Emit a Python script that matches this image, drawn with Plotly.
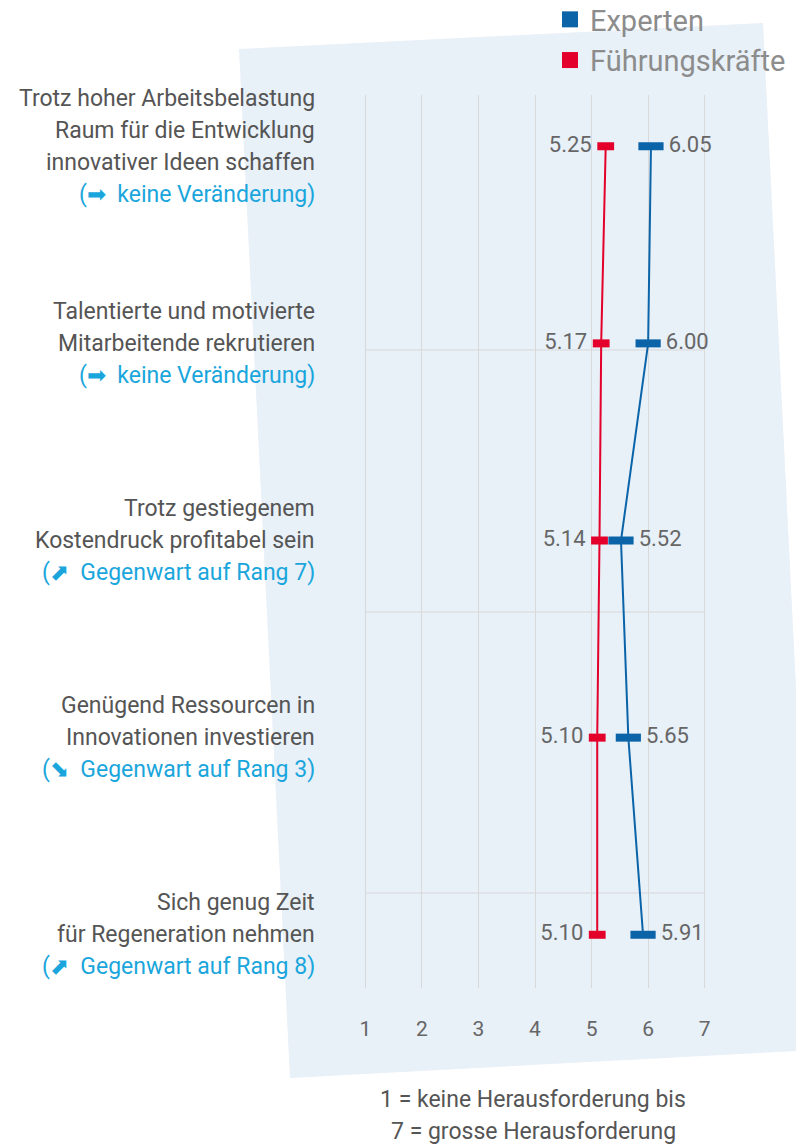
import plotly.graph_objects as go

# ---------------- data ----------------
categories = [
    "Trotz hoher Arbeitsbelastung<br>Raum für die Entwicklung<br>innovativer Ideen schaffen",
    "Talentierte und motivierte<br>Mitarbeitende rekrutieren",
    "Trotz gestiegenem<br>Kostendruck profitabel sein",
    "Genügend Ressourcen in<br>Innovationen investieren",
    "Sich genug Zeit<br>für Regeneration nehmen",
]
trend_arrows = ["➡", "➡", "⬈", "⬊", "⬈"]
trend_texts = [
    "keine Veränderung",
    "keine Veränderung",
    "Gegenwart auf Rang 7",
    "Gegenwart auf Rang 3",
    "Gegenwart auf Rang 8",
]
experten = [6.05, 6.00, 5.52, 5.65, 5.91]
fuehrung = [5.25, 5.17, 5.14, 5.10, 5.10]
x_ticks = [1, 2, 3, 4, 5, 6, 7]
scale_note = ["1 = keine Herausforderung bis", "7 = grosse Herausforderung"]

# ---------------- style ----------------
W, H = 796, 1144
ML, MR, MT, MB = 337, 63, 95, 156
PW, PH = W - ML - MR, H - MT - MB
BLUE = "#0b64a8"
RED = "#e3002a"
CYAN = "#1aa6dc"
DARK = "#555555"
GREY = "#666666"
FONT = "Roboto, 'Open Sans', sans-serif"
NB = "\u00a0"


def px_x(px):
    return (px - ML) / PW


def px_y(py):
    return (H - MB - py) / PH


keys = list(range(len(categories)))

fig = go.Figure()

fig.add_trace(go.Scatter(
    x=experten, y=keys, mode="lines+markers+text",
    line=dict(color=BLUE, width=2),
    marker=dict(symbol="line-ew", size=18, line=dict(color=BLUE, width=8)),
    texttemplate=NB + "%{x:.2f}", textposition="middle right",
    textfont=dict(family=FONT, size=22, color=GREY),
    showlegend=False, cliponaxis=False, hoverinfo="skip",
))
fig.add_trace(go.Scatter(
    x=fuehrung, y=keys, mode="lines+markers+text",
    line=dict(color=RED, width=2),
    marker=dict(symbol="line-ew", size=12, line=dict(color=RED, width=8)),
    texttemplate="%{x:.2f}" + NB, textposition="middle left",
    textfont=dict(family=FONT, size=22, color=GREY),
    showlegend=False, cliponaxis=False, hoverinfo="skip",
))
# legend entries
fig.add_trace(go.Scatter(x=[None], y=[None], mode="markers", name="Experten",
                         marker=dict(symbol="square", size=18, color=BLUE)))
fig.add_trace(go.Scatter(x=[None], y=[None], mode="markers", name="Führungskräfte",
                         marker=dict(symbol="square", size=18, color=RED)))

# background tilted panel
poly = [(239, 49), (763, 23), (814, 1050), (290, 1078)]
path = "M " + " L ".join(f"{px_x(a):.4f},{px_y(b):.4f}" for a, b in poly) + " Z"
shapes = [dict(type="path", path=path, xref="paper", yref="paper",
               fillcolor="#e8f0f8", line=dict(width=0), layer="below")]
# horizontal separators
for py in (350, 612, 893):
    shapes.append(dict(type="line", xref="x", yref="paper", x0=1, x1=7,
                       y0=px_y(py), y1=px_y(py),
                       line=dict(color="#d8d8d8", width=1), layer="below"))

annotations = []
LINE = 32
for i, cat in enumerate(categories):
    sub = "(" + trend_arrows[i] + NB + NB + trend_texts[i] + ")"
    lines = cat.split("<br>") + [sub]
    n = len(lines)
    for k, txt in enumerate(lines):
        annotations.append(dict(
            x=px_x(317), xref="paper", y=i, yref="y", xanchor="right", yanchor="middle",
            text=txt, showarrow=False,
            yshift=((n - 1) / 2 - k) * LINE,
            font=dict(family=FONT, size=23, color=CYAN if k == n - 1 else DARK),
        ))
for k, txt in enumerate(scale_note):
    annotations.append(dict(
        x=px_x(533), xref="paper", y=px_y(1099 + k * LINE), yref="paper",
        xanchor="center", yanchor="middle", text=txt, showarrow=False,
        font=dict(family=FONT, size=23, color=DARK),
    ))

fig.update_layout(
    width=W, height=H,
    margin=dict(l=ML, r=MR, t=MT, b=MB, autoexpand=False),
    paper_bgcolor="white", plot_bgcolor="rgba(0,0,0,0)",
    font=dict(family=FONT, color=GREY),
    shapes=shapes, annotations=annotations,
    legend=dict(x=px_x(550), y=px_y(-6), xref="paper", yref="paper",
                xanchor="left", yanchor="top",
                font=dict(family=FONT, size=29, color="#8c8c8c"),
                bgcolor="rgba(0,0,0,0)", tracegroupgap=0),
    xaxis=dict(range=[0.5, 7.5], tickvals=x_ticks, showgrid=True,
               gridcolor="#d9d9d9", gridwidth=1, zeroline=False, showline=False,
               ticks="", ticklabelstandoff=26,
               tickfont=dict(family=FONT, size=21, color=GREY)),
    yaxis=dict(range=[4.27, -0.26], showgrid=False, zeroline=False,
               showticklabels=False, showline=False),
)

fig.write_html("out.html", config={"displayModeBar": False},
               post_script="document.body.style.margin='0';")
